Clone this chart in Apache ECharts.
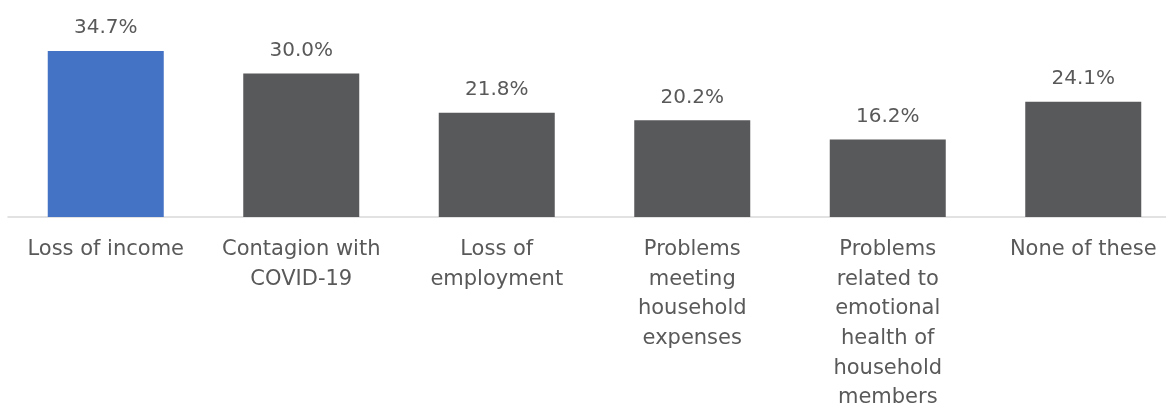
<!DOCTYPE html>
<html>
<head>
<meta charset="utf-8">
<script src="https://cdn.jsdelivr.net/npm/echarts@6/dist/echarts.min.js"></script>
<style>
  html, body { margin: 0; padding: 0; background: #ffffff; }
  #chart { width: 1166px; height: 404px; }
</style>
</head>
<body>
<div id="chart"></div>
<script>
// Household concerns, share of respondents (%)
const categories = [
  'Loss of income',
  'Contagion with\nCOVID-19',
  'Loss of\nemployment',
  'Problems\nmeeting\nhousehold\nexpenses',
  'Problems\nrelated to\nemotional\nhealth of\nhousehold\nmembers',
  'None of these'
];
const values = [34.7, 30.0, 21.8, 20.2, 16.2, 24.1];
const barColors = ['#4472C4', '#58595B', '#58595B', '#58595B', '#58595B', '#58595B'];

const FONT = '"DejaVu Sans", sans-serif';
const TEXT = '#595959';

const chart = echarts.init(document.getElementById('chart'), null, { renderer: 'canvas' });

chart.setOption({
  animation: false,
  backgroundColor: '#ffffff',
  grid: {
    left: 8, top: 25.6, width: 1173, bottom: 187,
    containLabel: false,
    outerBoundsMode: 'none'
  },
  xAxis: {
    type: 'category',
    data: categories,
    axisLine: { show: true, lineStyle: { color: '#D9D9D9', width: 1.5 } },
    axisTick: { show: false },
    axisLabel: {
      interval: 0,
      margin: 18,
      color: TEXT,
      fontFamily: FONT,
      fontSize: 21,
      lineHeight: 29.6,
      align: 'center'
    }
  },
  yAxis: {
    type: 'value',
    min: 0,
    max: 40,
    show: false,
    splitLine: { show: false }
  },
  series: [{
    type: 'bar',
    data: values.map((v, i) => ({ value: v, itemStyle: { color: barColors[i] } })),
    barWidth: 116,
    label: {
      show: true,
      position: 'top',
      distance: 13,
      color: TEXT,
      fontFamily: FONT,
      fontSize: 20,
      formatter: p => p.value.toFixed(1) + '%'
    }
  }]
});
</script>
</body>
</html>
